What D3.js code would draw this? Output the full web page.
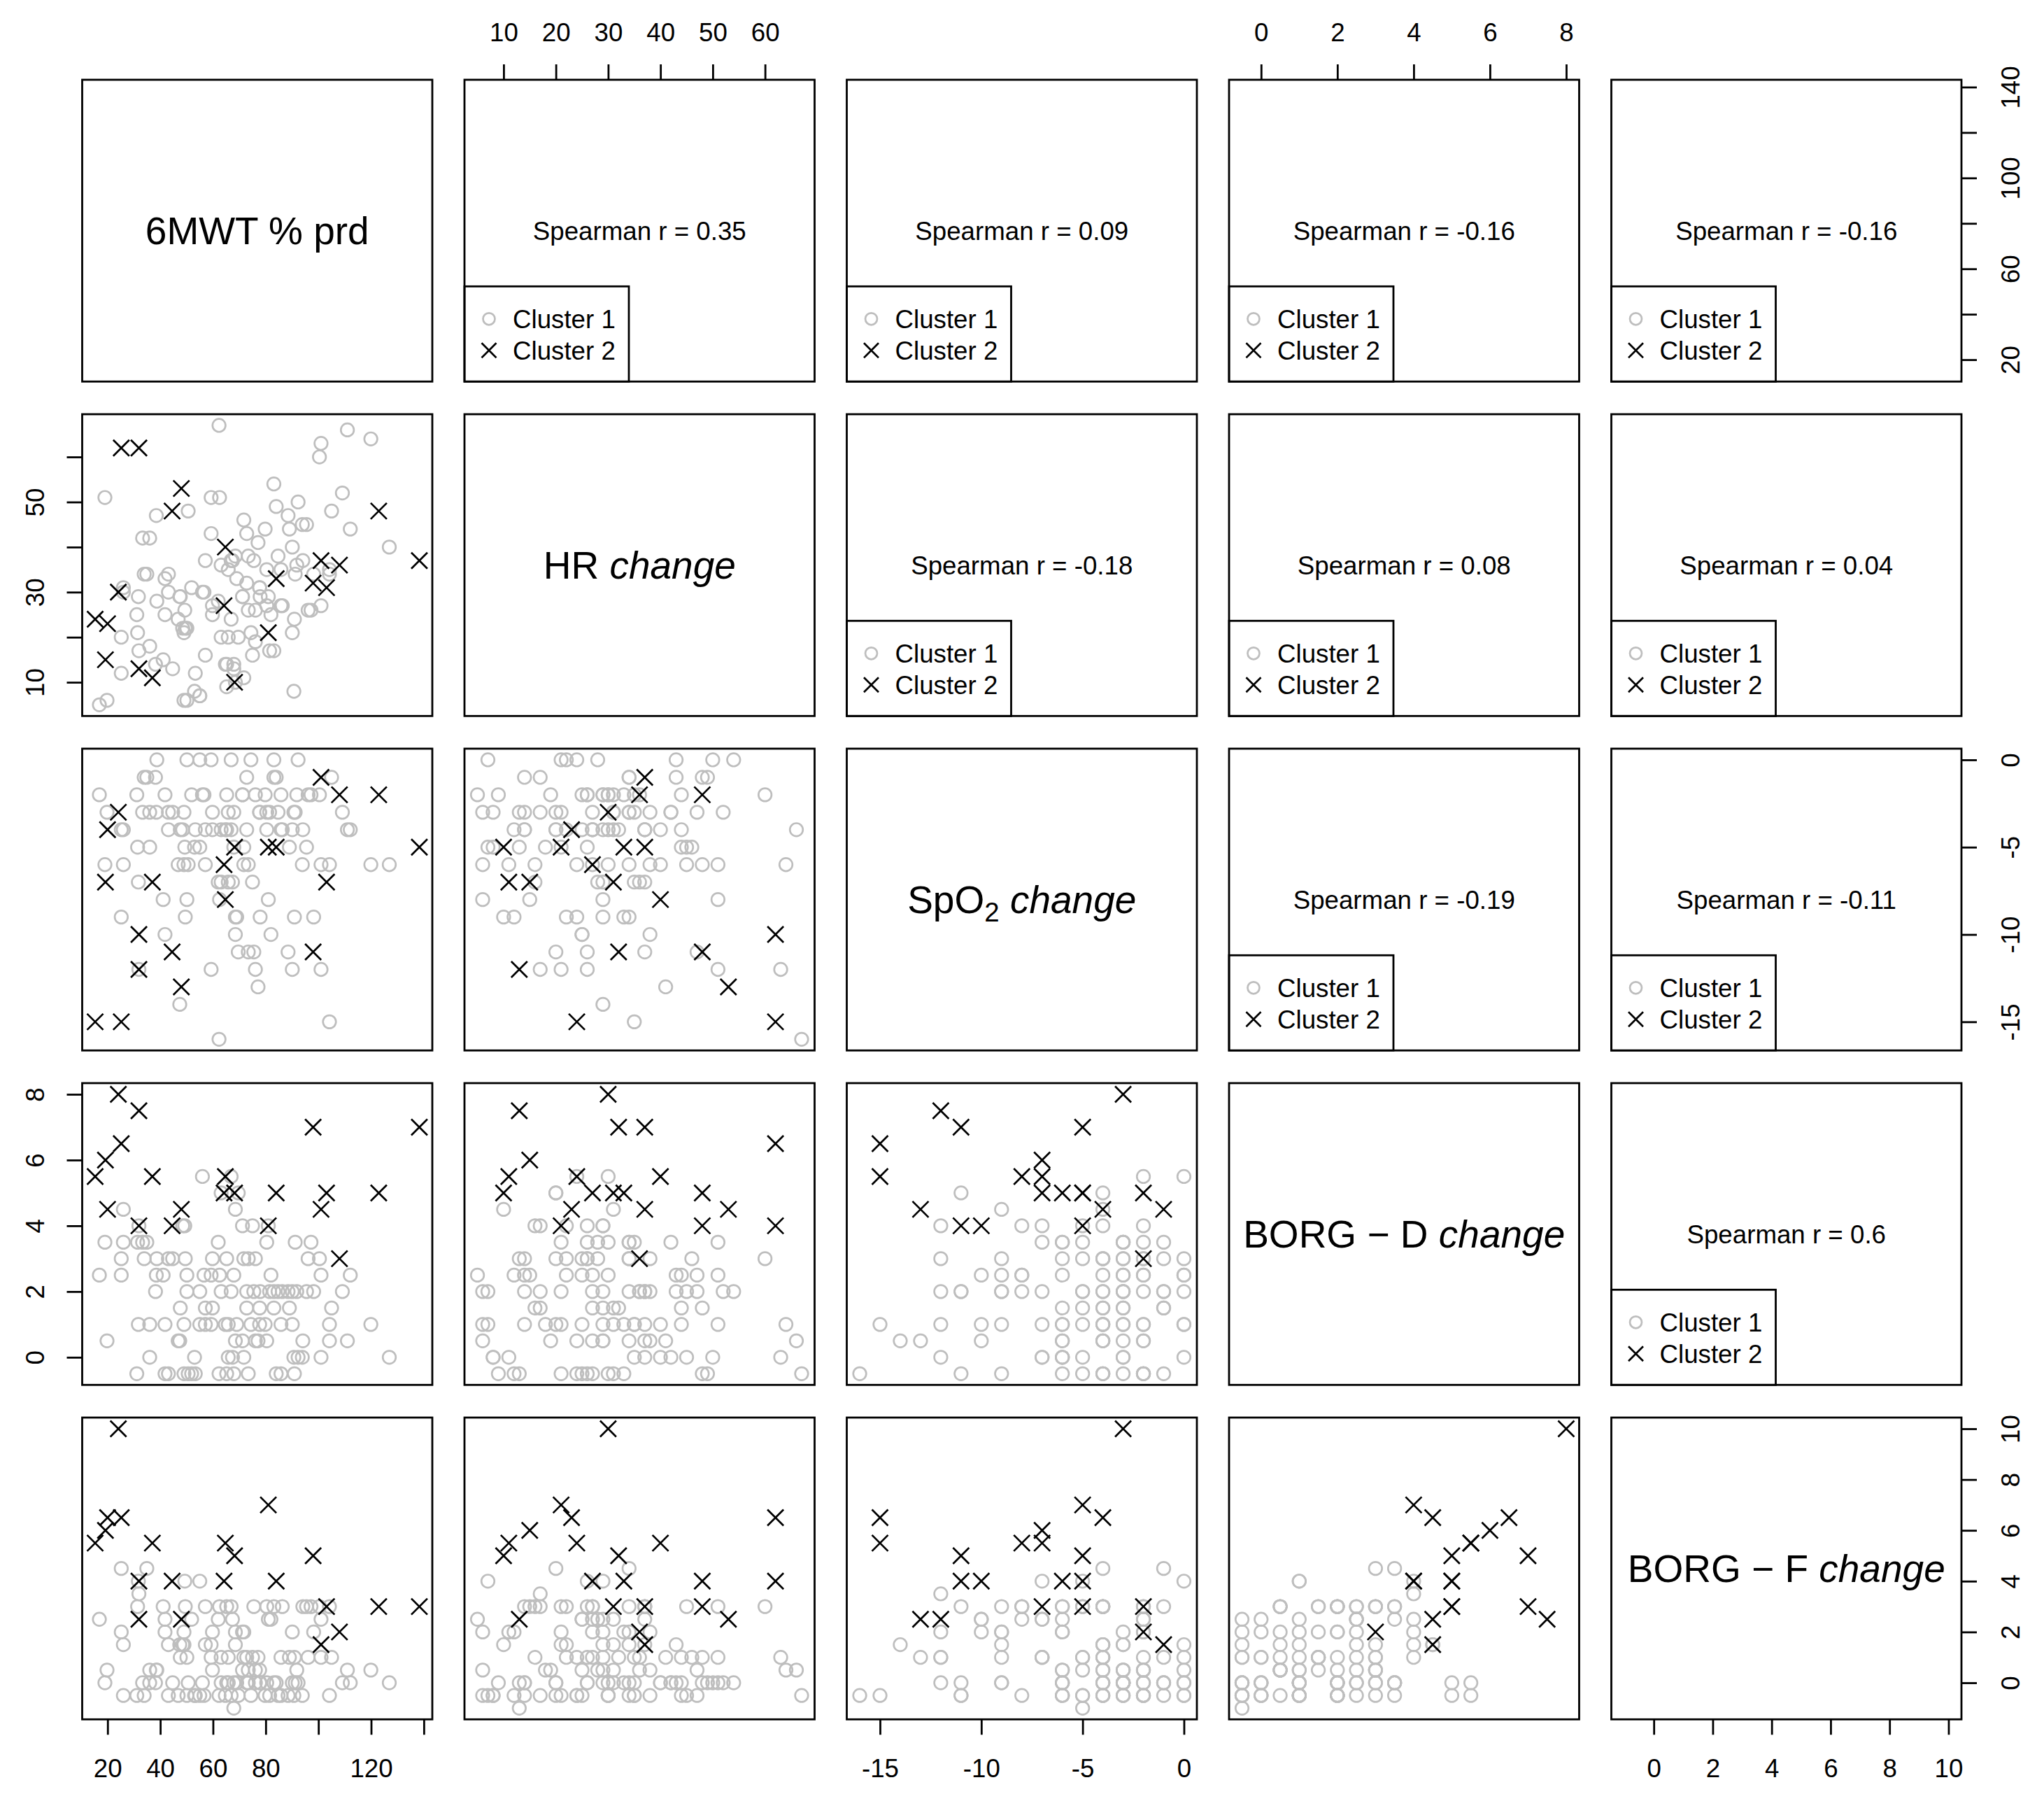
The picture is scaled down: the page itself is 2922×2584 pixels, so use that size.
<!DOCTYPE html>
<html><head><meta charset="utf-8">
<script src="https://cdn.jsdelivr.net/npm/d3@7"></script>
<style>body{margin:0;background:#fff}svg{display:block}</style>
</head><body><svg id="c"></svg>
<script>
// ---------------- data ----------------
const varNames = ["mwt","hr","spo2","borgD","borgF"];

// Cluster 1 (grey circles)
const mwt1 = [16.9,19,19.8,25.2,25.2,26,26,31.1,31.4,31.7,
 31.9,33.3,33.9,34.9,36,36,38.2,38.5,38.7,41.1,
 41.8,41.8,43.1,43.1,44.7,46.8,47.4,47.6,48.5,49,
 49,49.3,49.5,50.1,50.1,50.6,51.9,53,53.3,55,
 55,56,56.6,57.1,57.1,59.3,59.3,59.8,59.8,62,
 62.3,62.5,63.1,63.1,64.7,65.2,65.2,65.8,65.8,66.9,
 66.9,67.4,67.9,67.9,68.5,68.5,69,69.6,71.2,71.2,
 71.7,71.7,72.8,72.8,73.4,73.4,74.4,75,75.5,76.1,
 76.1,77.1,77.7,77.7,77.9,79.8,80.4,80.4,81,81.5,
 82,83.1,83.1,84,84.7,85.8,85.8,86.3,88.5,89,
 90.1,90.1,90.7,90.9,91.2,91.8,92.3,93.9,94.1,95.5,
 96.1,97.2,98.2,100.4,101,101,104.2,104.2,105,109.1,
 111,112.1,119.9,126.9];
const hr1 = [5,51,6,20,12,31,30,25,21,29,17,42,34,34,
 18,42,14,47,28,15,25,33,34,30,13,24,29,29,
 22,6,21,26,22,22,6,48,31,8,12,7,7,30,
 30,16,37,43,51,25,27,28,67,51,20,36,14,14,
 9,20,35,24,37,37,14,13,10,38,33,20,29,29,
 46,11,43,32,38,26,21,16,37,26,19,41,31,31,
 29,44,35,27,29,17,25,54,17,49,38,35,27,27,
 47,44,21,40,8,24,34,36,50,45,37,45,26,26,
 34,60,27,63,34,35,48,52,66,44,64,40];
const spo2_1 = [-2,-6,-3,-4,-9,-4,-6,-2,-5,-7,-12,-3,-1,-1,
 -5,-3,-1,-3,0,-8,-10,-2,-3,-4,-3,-6,-14,-4,
 -4,-6,-3,-5,-9,0,-8,-6,-2,-5,-4,-5,0,-2,
 -2,-6,-4,0,-12,-4,-3,-7,-16,-8,-4,-7,-4,-4,
 -2,-3,-7,0,-4,-7,-3,-5,-9,-10,-9,-11,-2,-2,
 -5,-6,-1,-4,-6,-11,0,-7,-11,-12,-2,-13,-3,-3,
 -9,-2,-3,-4,-8,-3,-10,0,-1,-1,-3,-2,-4,-4,
 -11,-5,-12,-4,-3,-9,-3,-2,0,-6,-4,-5,-2,-2,
 -9,-2,-6,-12,-6,-15,-1,-3,-4,-4,-6,-6];
const borgD1 = [2.5,3.5,0.5,3,2.5,4.5,3.5,-0.5,3.5,1,
 4,3.5,3,3.5,1,0,2,2.5,3,2.5,
 1,-0.5,3,-0.5,3,0.5,0.5,1.5,4,1,
 -0.5,4,3,2.5,2,-0.5,-0.5,0,-0.5,2,
 1,5.5,2.5,1.5,1,2.5,1,3,1.5,3.5,
 -0.5,2.5,5,2,1,3,-0.5,1,0,5.5,
 2,0,2.5,-0.5,4.5,0.5,1,5,4,0.5,
 3,0,2,1.5,3,-0.5,1,4,2,3,
 0.5,0.5,1.5,1,2,1,3.5,0.5,4,2,
 2.5,2,1.5,-0.5,2,1,-0.5,2,2,1.5,
 2,1,0,-0.5,3.5,2,0,0,0.5,2,
 3,3.5,2,3,2.5,0,0.5,1,1.5,2,
 0.5,2.5,1,0];
const borgF1 = [2.5,0,0.5,4.5,2,1.5,-0.5,-0.5,3,4,3.5,0,-0.5,4.5,0.5,0,0,0.5,0.5,
 3,2.5,2,1.5,-0.5,0,-0.5,1.5,1,1.5,2,1.5,4,3,1,-0.5,0,2.5,-0.5,
 -0.5,-0.5,4,0,-0.5,3,1.5,1.5,1,0.5,2,2.5,-0.5,3,0,1,-0.5,3,0,
 0,1,-0.5,3,2.5,0,-1,1.5,2,0,-0.5,2,0.5,1,2,0,1,0.5,0,
 -0.5,1,3,0,0.5,1,0.5,0,0,-0.5,0,3,2.5,-0.5,2.5,0,3,0,-0.5,
 -0.5,1,3,-0.5,1,2,0,-0.5,1,0,0.5,0,-0.5,3,3,1,3,2,3,
 2.5,1,3,-0.5,1,0,0.5,0,0.5,0];

// Cluster 2 (black crosses)
const mwt2   = [24.1,25.2,31.9,31.9,48,44.5,64.7,64.2,101,108,122.9,138.3,84,81,98,103.1,15.3,20,19.2,37,68.2];
const hr2    = [30,62,62,13,53,48,40,27,37,36,48,37,33,21,32,31,24,23,15,11,10];
const spo2_2 = [-3,-15,-10,-12,-13,-11,-8,-6,-1,-2,-2,-5,-5,-5,-11,-7,-15,-4,-7,-7,-5];
const borgD2 = [8,6.5,4,7.5,4.5,4,5.5,5,4.5,3,5,7,5,4,7,5,5.5,4.5,6,5.5,5];
const borgF2 = [10,6.5,4,2.5,2.5,4,5.5,4,1.5,2,3,3,4,7,5,3,5.5,6.5,6,5.5,5];

// Correlations shown in the upper panels [row, col, value]
const spearman = [[0,1,"0.35"],[0,2,"0.09"],[0,3,"-0.16"],[0,4,"-0.16"],
                  [1,2,"-0.18"],[1,3,"0.08"],[1,4,"0.04"],
                  [2,3,"-0.19"],[2,4,"-0.11"],
                  [3,4,"0.6"]];
const legendLabels = ["Cluster 1","Cluster 2"];

// Axis ticks and labels
const axisTicks = {mwt:[20,40,60,80,100,120,140], hr:[10,20,30,40,50,60], spo2:[-15,-10,-5,0], borgD:[0,2,4,6,8], borgF:[0,2,4,6,8,10]};
const xAxisLabels = {mwt:[20,40,60,80,120], hr:[10,20,30,40,50,60], spo2:[-15,-10,-5,0], borgD:[0,2,4,6,8], borgF:[0,2,4,6,8,10]};
const yAxisLabels = {mwt:[20,60,100,140], hr:[10,30,50], spo2:[-15,-10,-5,0], borgD:[0,2,4,6,8], borgF:[0,2,4,6,8,10]};

// ---------------- layout ----------------
const W = 2922, H = 2584;
const X0 = 117.5, Y0 = 114, PW = 500.5, PH = 431.3, PX = 546.5, PY = 478;
const FONT = "'Liberation Sans', Arial, Helvetica, sans-serif";
const LW = 2.8, FS = 36.7, FS_DIAG = 55;
const GREY = "#bebebe";
const N = varNames.length;

const rows = mwt1.map((v,i)=>({mwt:v,hr:hr1[i],spo2:spo2_1[i],borgD:borgD1[i],borgF:borgF1[i],cl:1}))
  .concat(mwt2.map((v,i)=>({mwt:v,hr:hr2[i],spo2:spo2_2[i],borgD:borgD2[i],borgF:borgF2[i],cl:2})));

const xs = {}, ys = {};
varNames.forEach(v=>{
  const e = d3.extent(rows, d=>d[v]);
  const r = e[1]-e[0];
  const dom = [e[0]-0.04*r, e[1]+0.04*r];
  xs[v] = d3.scaleLinear().domain(dom).range([0,PW]);
  ys[v] = d3.scaleLinear().domain(dom).range([PH,0]);
});

const svg = d3.select("#c").attr("width",W).attr("height",H).attr("viewBox",`0 0 ${W} ${H}`);
svg.append("rect").attr("width",W).attr("height",H).attr("fill","#fff");

const px = i => X0 + i*PX, py = j => Y0 + j*PY;

// diagonal labels
function diagLabel(g, idx){
  const t = g.append("text").attr("x",PW/2).attr("y",PH/2).attr("dy","0.36em")
    .attr("text-anchor","middle").attr("font-family",FONT).attr("font-size",FS_DIAG).attr("fill","#000");
  if(idx===0){ t.text("6MWT % prd"); return; }
  if(idx===1){ t.append("tspan").text("HR "); }
  if(idx===2){ t.append("tspan").text("SpO");
    t.append("tspan").attr("font-size",FS_DIAG*0.7).attr("dy","0.3em").text("2");
    t.append("tspan").attr("dy","-0.21em").text(" "); }
  if(idx===3){ t.append("tspan").text("BORG \u2212 D "); }
  if(idx===4){ t.append("tspan").text("BORG \u2212 F "); }
  t.append("tspan").attr("font-style","italic").text("change");
}

const crossPath = h => `M${-h},${-h}L${h},${h}M${-h},${h}L${h},${-h}`;

for(let j=0;j<N;j++){
  for(let i=0;i<N;i++){
    const g = svg.append("g").attr("transform",`translate(${px(i)},${py(j)})`);
    const xv = varNames[i], yv = varNames[j];
    if(i===j){
      diagLabel(g, i);
    } else if(j>i){
      const c1 = rows.filter(d=>d.cl===1), c2 = rows.filter(d=>d.cl===2);
      g.selectAll("circle.p").data(c1).enter().append("circle")
        .attr("cx",d=>xs[xv](d[xv])).attr("cy",d=>ys[yv](d[yv])).attr("r",9.3)
        .attr("fill","none").attr("stroke",GREY).attr("stroke-width",2.7);
      g.selectAll("path.x").data(c2).enter().append("path")
        .attr("transform",d=>`translate(${xs[xv](d[xv])},${ys[yv](d[yv])})`)
        .attr("d",crossPath(11.5)).attr("stroke","#000").attr("stroke-width",2.7).attr("fill","none");
    } else {
      const s = spearman.find(e=>e[0]===j && e[1]===i);
      g.append("text").attr("x",PW/2).attr("y",PH/2).attr("dy","0.36em").attr("text-anchor","middle")
        .attr("font-family",FONT).attr("font-size",FS).attr("fill","#000")
        .text("Spearman r = " + s[2]);
      const lg = g.append("g").attr("transform",`translate(0,${PH-136})`);
      lg.append("rect").attr("x",0).attr("y",0).attr("width",235).attr("height",136)
        .attr("fill","#fff").attr("stroke","#000").attr("stroke-width",LW);
      lg.append("circle").attr("cx",35).attr("cy",136-89.5).attr("r",8.5)
        .attr("fill","none").attr("stroke",GREY).attr("stroke-width",2.7);
      lg.append("path").attr("transform",`translate(35,${136-44.5})`).attr("d",crossPath(10.5))
        .attr("stroke","#000").attr("stroke-width",2.7);
      legendLabels.forEach((lab,k)=>{
        lg.append("text").attr("x",69).attr("y",k===0?136-89.5:136-44.5).attr("dy","0.36em")
          .attr("font-family",FONT).attr("font-size",FS).attr("fill","#000").text(lab);
      });
    }
    g.append("rect").attr("x",0).attr("y",0).attr("width",PW).attr("height",PH)
      .attr("fill","none").attr("stroke","#000").attr("stroke-width",LW);
  }
}

// axes
function styleAxis(g){
  g.select(".domain").remove();
  g.attr("font-family",FONT).attr("font-size",FS);
  g.selectAll(".tick line").attr("stroke","#000").attr("stroke-width",LW);
  g.selectAll(".tick text").attr("fill","#000");
}
for(let i=0;i<N;i++){
  const v = varNames[i];
  const fmt = d => xAxisLabels[v].includes(d) ? String(d) : "";
  if(i%2===0){
    const g = svg.append("g").attr("transform",`translate(${px(i)},${py(N-1)+PH})`)
      .call(d3.axisBottom(xs[v]).tickValues(axisTicks[v]).tickSize(22).tickFormat(fmt));
    styleAxis(g);
    g.selectAll(".tick text").attr("y",70).attr("dy","0.358em");
  } else {
    const g = svg.append("g").attr("transform",`translate(${px(i)},${py(0)})`)
      .call(d3.axisTop(xs[v]).tickValues(axisTicks[v]).tickSize(22).tickFormat(fmt));
    styleAxis(g);
    g.selectAll(".tick text").attr("y",-68).attr("dy","0.358em");
  }
}
for(let j=0;j<N;j++){
  const v = varNames[j];
  const fmt = d => yAxisLabels[v].includes(d) ? String(d) : "";
  if(j%2===0){
    const g = svg.append("g").attr("transform",`translate(${px(N-1)+PW},${py(j)})`)
      .call(d3.axisRight(ys[v]).tickValues(axisTicks[v]).tickSize(22).tickFormat(fmt));
    styleAxis(g);
    g.selectAll(".tick text").attr("x",0).attr("y",0).attr("dy","0.358em")
      .attr("text-anchor","middle").attr("transform","translate(70,0) rotate(-90)");
  } else {
    const g = svg.append("g").attr("transform",`translate(${px(0)},${py(j)})`)
      .call(d3.axisLeft(ys[v]).tickValues(axisTicks[v]).tickSize(22).tickFormat(fmt));
    styleAxis(g);
    g.selectAll(".tick text").attr("x",0).attr("y",0).attr("dy","0.358em")
      .attr("text-anchor","middle").attr("transform","translate(-68,0) rotate(-90)");
  }
}
</script>
</body></html>
